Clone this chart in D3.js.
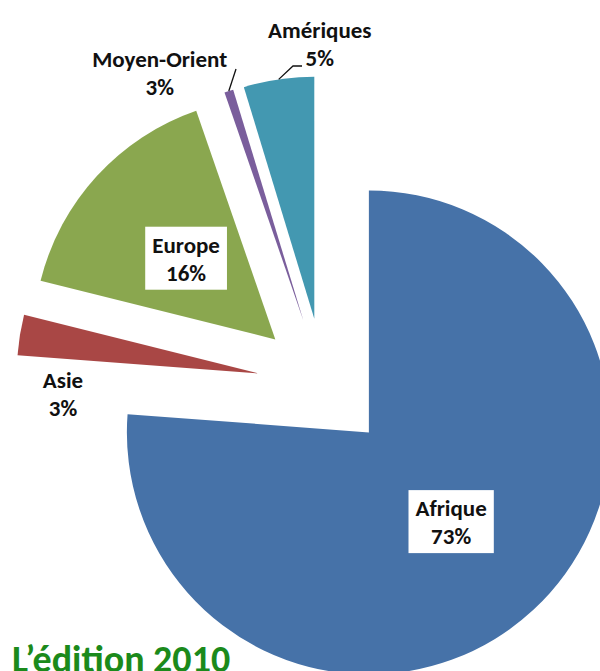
<!DOCTYPE html>
<html>
<head>
    <meta charset="utf-8">
    <script src="https://cdn.jsdelivr.net/npm/d3@7/dist/d3.min.js"></script>
</head>
<body style="margin:0;background:#fff;">
    <style type="text/css">
        .lbl {
            font-family: Calibri, Carlito, "Open Sans", sans-serif;
            font-weight: 700;
            font-size: 23px;
            fill: #111;
            text-anchor: middle;
        }
        .title {
            font-family: Calibri, Carlito, "Open Sans", sans-serif;
            font-weight: 700;
            font-size: 38px;
            fill: #1b8a1b;
        }
    </style>
    <svg id="chart"></svg>
    <script>
        // slices in drawing order (clockwise from 12 o'clock)
        var regions = ["Afrique", "Asie", "Europe", "Moyen-Orient", "Amériques"];
        // slice sizes as drawn in the picture (% of the circle)
        var shares = [76.2, 2.7, 15.8, 0.6, 4.7];
        // percentages printed on the labels
        var pctLabels = ["73%", "3%", "16%", "3%", "5%"];
        var colors = ["#4672a8", "#a94745", "#8aa74f", "#7a5e9c", "#4398b1"];

        var width = 600,
            height = 671;
        var cx = 324,
            cy = 384,
            radius = 242,
            explode = 66;

        // label placement: inside = boxed at centroid, otherwise polar from pie centre
        var labelLayout = {
            "Afrique": { inside: true },
            "Europe": { inside: true },
            "Asie": { r: 261, deg: 269.1 },
            "Moyen-Orient": { r: 357, deg: 332.6, leader: [[236, 69]] },
            "Amériques": { r: 346, deg: 359.3, leader: [[293, 66], [302, 66]] }
        };

        var data = regions.map(function(d, i) {
            return { name: d, value: shares[i], pct: pctLabels[i], color: colors[i] };
        });

        var svg = d3.select("#chart")
            .attr("width", width)
            .attr("height", height);

        var g = svg.append("g")
            .attr("transform", "translate(" + cx + "," + cy + ")");

        var pie = d3.pie()
            .sort(null)
            .startAngle(0)
            .endAngle(2 * Math.PI)
            .value(function(d) { return d.value; });

        var arc = d3.arc()
            .innerRadius(0)
            .outerRadius(radius);

        function polar(r, a) {
            return [r * Math.sin(a), -r * Math.cos(a)];
        }

        var arcs = pie(data);

        arcs.forEach(function(d) {
            d.mid = (d.startAngle + d.endAngle) / 2;
            d.off = polar(explode, d.mid);
        });

        var slice = g.selectAll(".slice")
            .data(arcs)
            .enter()
            .append("g")
            .attr("class", "slice")
            .attr("transform", function(d) {
                return "translate(" + d.off[0] + "," + d.off[1] + ")";
            });

        slice.append("path")
            .attr("d", arc)
            .attr("fill", function(d) { return d.data.color; });

        // leader lines
        arcs.forEach(function(d) {
            var lay = labelLayout[d.data.name];
            if (!lay.leader) return;
            var start = polar(radius, d.mid);
            var pts = [[cx + d.off[0] + start[0], cy + d.off[1] + start[1]]].concat(lay.leader);
            svg.append("path")
                .attr("d", d3.line()(pts))
                .attr("fill", "none")
                .attr("stroke", "#111")
                .attr("stroke-width", 1.3);
        });

        // labels
        arcs.forEach(function(d) {
            var lay = labelLayout[d.data.name];
            var x, y;
            if (lay.inside) {
                var c = arc.centroid(d);
                x = cx + d.off[0] + c[0];
                y = cy + d.off[1] + c[1] - 5;
            } else {
                var p = polar(lay.r, lay.deg * Math.PI / 180);
                x = cx + p[0];
                y = cy + p[1];
            }
            var lg = svg.append("g");
            var t = lg.append("text")
                .attr("class", "lbl")
                .attr("x", x)
                .attr("y", y);
            t.append("tspan").attr("x", x).text(d.data.name);
            t.append("tspan").attr("x", x).attr("dy", 28).text(d.data.pct);
            if (lay.inside) {
                var bb = t.node().getBBox();
                lg.insert("rect", "text")
                    .attr("x", bb.x - 7)
                    .attr("y", bb.y - 4)
                    .attr("width", bb.width + 14)
                    .attr("height", bb.height + 7)
                    .attr("fill", "#fff");
            }
        });

        svg.append("text")
            .attr("class", "title")
            .attr("x", 12)
            .attr("y", 672)
            .text("L\u2019édition 2010");
    </script>
</body>
</html>
